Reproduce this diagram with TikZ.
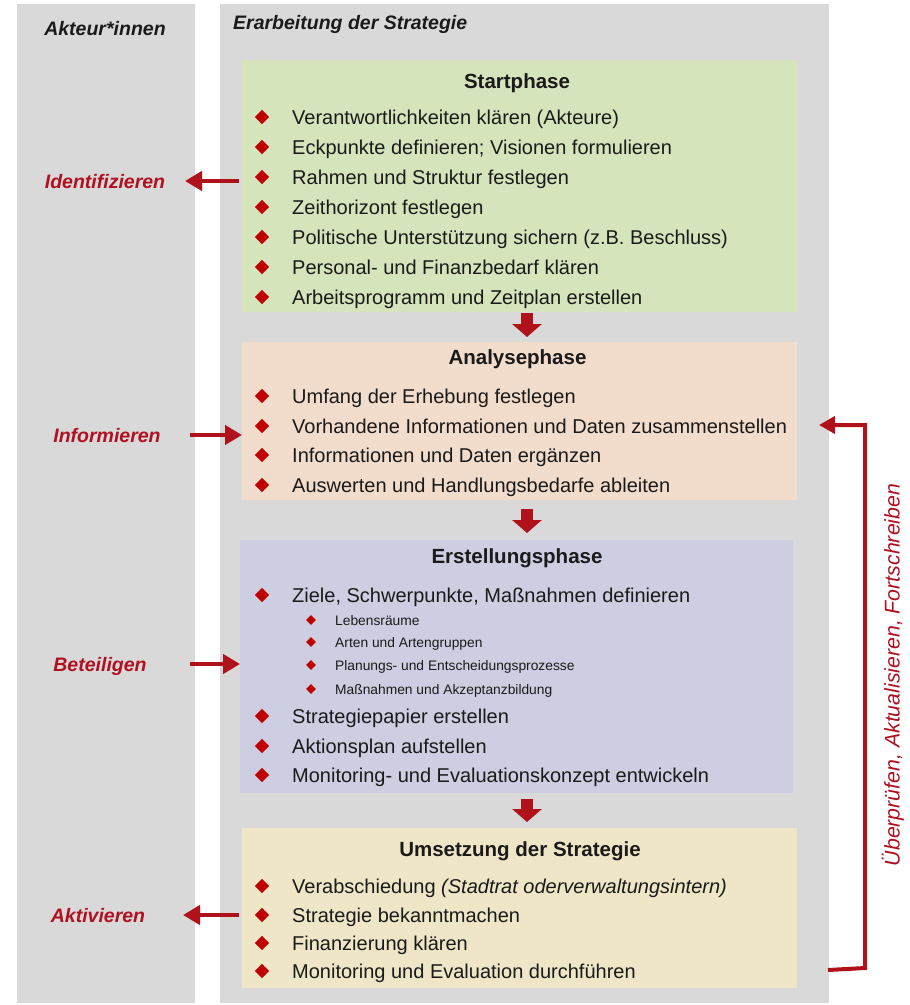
\documentclass[tikz,border=0pt]{standalone}
\usepackage{fontspec}
\setmainfont{Liberation Sans}
\usetikzlibrary{arrows.meta}
\definecolor{panelgrey}{HTML}{D9D9D9}
\definecolor{startgreen}{HTML}{D6E4BC}
\definecolor{analysepeach}{HTML}{F2DCCB}
\definecolor{erstlilac}{HTML}{CDCEE2}
\definecolor{umsetzyellow}{HTML}{EEE6C6}
\definecolor{accentred}{HTML}{C00000}
\definecolor{arrowred}{HTML}{B0121C}
\definecolor{labelred}{HTML}{B01020}
\definecolor{textdark}{HTML}{1A1A1A}
\begin{document}
\begin{tikzpicture}[x=1pt,y=-1pt,
  panel/.style={fill=panelgrey, draw=none, anchor=north west, inner sep=0pt},
  phasebox/.style={draw=none, anchor=north west, inner sep=0pt},
  phasetitle/.style={font=\fontsize{20.5}{24}\selectfont\bfseries, text=textdark, anchor=base, inner sep=0pt},
  headtitle/.style={font=\fontsize{19.5}{23}\selectfont\bfseries\itshape, text=textdark, anchor=base, inner sep=0pt},
  itemtext/.style={font=\fontsize{20}{24}\selectfont, text=textdark, anchor=base west, inner sep=0pt},
  subtext/.style={font=\fontsize{13.8}{16}\selectfont, text=textdark, anchor=base west, inner sep=0pt},
  bigbullet/.style={fill=accentred, rotate=45, minimum size=10pt, inner sep=0pt},
  smallbullet/.style={fill=accentred, rotate=45, minimum size=7pt, inner sep=0pt},
  actorlabel/.style={font=\fontsize{19.5}{23}\selectfont\bfseries\itshape, text=labelred, anchor=base, inner sep=0pt},
  sidearrow/.style={draw=arrowred, line width=4.5pt, -{Triangle[length=17pt,width=19pt]}},
  downarrow/.style={draw=arrowred, line width=12pt, -{Triangle[length=13pt,width=29pt]}},
  loopline/.style={draw=arrowred, line width=4pt, -{Triangle[length=16pt,width=17pt]}},
  looplabel/.style={font=\fontsize{21.3}{25}\selectfont\itshape, text=labelred, rotate=90, inner sep=0pt}
]
\useasboundingbox (0,0) rectangle (910,1005);
\fill[white] (0,0) rectangle (910,1005);

% panels
\node[panel, minimum width=178pt, minimum height=999pt] (leftpanel) at (17,4) {};
\node[panel, minimum width=609pt, minimum height=999pt] (mainpanel) at (220,4) {};
\node[headtitle] (akteure) at (105,35) {Akteur*innen};
\node[headtitle, anchor=base west] (erarbeitung) at (233,29) {Erarbeitung der Strategie};

% phase boxes
\node[phasebox, fill=startgreen, minimum width=555pt, minimum height=252pt] (startbox) at (242,60) {};
\node[phasebox, fill=analysepeach, minimum width=555pt, minimum height=158pt] (analysebox) at (242,342) {};
\node[phasebox, fill=erstlilac, minimum width=553pt, minimum height=253pt] (erstbox) at (240,540) {};
\node[phasebox, fill=umsetzyellow, minimum width=555pt, minimum height=160pt] (umsetzbox) at (242,828) {};

% titles
\node[phasetitle] (starttitle) at (517,88) {Startphase};
\node[phasetitle] (analysetitle) at (517.5,364) {Analysephase};
\node[phasetitle] (ersttitle) at (517,563) {Erstellungsphase};
\node[phasetitle] (umsetztitle) at (520,856) {Umsetzung der Strategie};

% Startphase items
\foreach \yy/\tt [count=\i] in {
  117/{Verantwortlichkeiten klären (Akteure)},
  147/{Eckpunkte definieren; Visionen formulieren},
  177/{Rahmen und Struktur festlegen},
  207/{Zeithorizont festlegen},
  237/{Politische Unterstützung sichern (z.B. Beschluss)},
  267/{Personal- und Finanzbedarf klären},
  297/{Arbeitsprogramm und Zeitplan erstellen}} {
  \node[bigbullet] (sbul\i) at (262,\yy) {};
  \node[itemtext] (sitem\i) at (292,\yy+7) {\tt};
}

% Analysephase items
\foreach \yy/\tt [count=\i] in {
  396/{Umfang der Erhebung festlegen},
  426/{Vorhandene Informationen und Daten zusammenstellen},
  455/{Informationen und Daten ergänzen},
  485/{Auswerten und Handlungsbedarfe ableiten}} {
  \node[bigbullet] (abul\i) at (262,\yy) {};
  \node[itemtext] (aitem\i) at (292,\yy+7) {\tt};
}

% Erstellungsphase items
\foreach \yy/\tt [count=\i] in {
  595/{Ziele, Schwerpunkte, Maßnahmen definieren},
  716/{Strategiepapier erstellen},
  746/{Aktionsplan aufstellen},
  775/{Monitoring- und Evaluationskonzept entwickeln}} {
  \node[bigbullet] (ebul\i) at (262,\yy) {};
  \node[itemtext] (eitem\i) at (292,\yy+7) {\tt};
}
\foreach \yy/\tt [count=\i] in {
  620/{Lebensräume},
  642/{Arten und Artengruppen},
  665/{Planungs- und Entscheidungsprozesse},
  689/{Maßnahmen und Akzeptanzbildung}} {
  \node[smallbullet] (esbul\i) at (311,\yy) {};
  \node[subtext] (esitem\i) at (335,\yy+5) {\tt};
}

% Umsetzung items
\foreach \yy/\tt [count=\i] in {
  886/{Verabschiedung \textit{(Stadtrat oderverwaltungsintern)}},
  915/{Strategie bekanntmachen},
  943/{Finanzierung klären},
  971/{Monitoring und Evaluation durchführen}} {
  \node[bigbullet] (ubul\i) at (262,\yy) {};
  \node[itemtext] (uitem\i) at (292,\yy+7) {\tt};
}

% actor labels
\node[actorlabel] (identifizieren) at (105,188) {Identifizieren};
\node[actorlabel] (informieren) at (107,442) {Informieren};
\node[actorlabel] (beteiligen) at (100,671) {Beteiligen};
\node[actorlabel] (aktivieren) at (98,922) {Aktivieren};

% side arrows
\coordinate (idFrom) at (239,181);
\coordinate (idTo) at (185,181);
\draw[sidearrow] (idFrom) -- (idTo);
\coordinate (infFrom) at (190,435);
\coordinate (infTo) at (242,435);
\draw[sidearrow] (infFrom) -- (infTo);
\coordinate (betFrom) at (190,664);
\coordinate (betTo) at (240,664);
\draw[sidearrow] (betFrom) -- (betTo);
\coordinate (aktFrom) at (239,915);
\coordinate (aktTo) at (183,915);
\draw[sidearrow] (aktFrom) -- (aktTo);

% down arrows between phases
\coordinate (axis) at (527,0);
\draw[downarrow] ([yshift=-1pt]startbox.south -| axis) -- ([yshift=5pt]analysebox.north -| axis);
\draw[downarrow] ([yshift=-9pt]analysebox.south -| axis) -- ([yshift=7pt]erstbox.north -| axis);
\draw[downarrow] ([yshift=-6pt]erstbox.south -| axis) -- ([yshift=6pt]umsetzbox.north -| axis);

% feedback loop
\coordinate (loopStart) at (828,970);
\coordinate (loopEnd) at (819,425);
\draw[loopline] (loopStart) -- (865,968) -- (865,425) -- (loopEnd);
\node[looplabel] (looptext) at (893,675) {Überprüfen, Aktualisieren, Fortschreiben};
\end{tikzpicture}
\end{document}
